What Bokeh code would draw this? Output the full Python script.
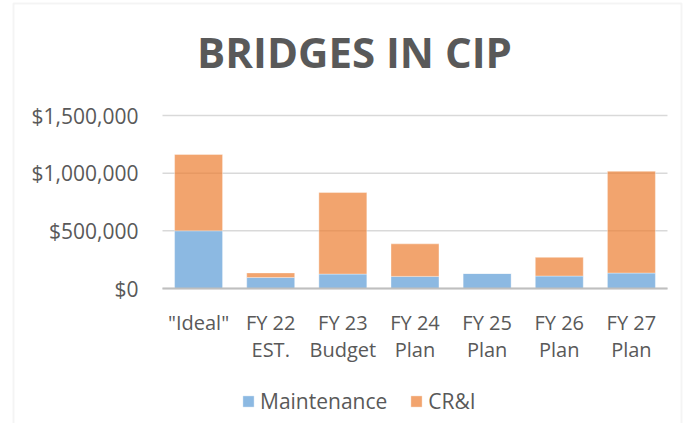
from bokeh.plotting import figure
from bokeh.models import (Range1d, FixedTicker, NumeralTickFormatter, LinearAxis,
                          Legend, Label, BoxAnnotation)
from bokeh.embed import file_html
from bokeh.resources import INLINE

categories = ['"Ideal"', "FY 22\nEST.", "FY 23\nBudget", "FY 24\nPlan",
              "FY 25\nPlan", "FY 26\nPlan", "FY 27\nPlan"]
maintenance = [500000, 95000, 125000, 105000, 130000, 108000, 134000]
cri = [662000, 40000, 707000, 282000, 0, 162000, 883000]
series = ["Maintenance", "CR&I"]
y_ticks = [0, 500000, 1000000, 1500000]
title_text = "BRIDGES IN CIP"

FONT = "Open Sans"
TXT = "#595959"

W, H = 683, 423
# frame covers the whole canvas; pixel layout mapped to data units
PX_X = 72.14            # pixels per category
PX_Y = 115.33 / 1e6     # pixels per dollar
X0, Y0 = 162, 288       # plot-area left edge and $0 baseline (px)
n = len(categories)
xs = list(range(n))

def dx(px):
    return (px - X0) / PX_X - 0.5

def dy(py):
    return (Y0 - py) / PX_Y

p = figure(x_range=Range1d(dx(0), dx(W)), y_range=Range1d(dy(H), dy(0)),
           width=W, height=H, output_backend="svg", toolbar_location=None,
           x_axis_type=None, y_axis_type=None,
           min_border=0, min_border_left=0, min_border_right=0,
           min_border_top=0, min_border_bottom=0)
p.outline_line_color = None
p.background_fill_color = "white"
p.border_fill_color = "white"
p.xgrid.visible = False
p.ygrid.visible = False

# gridlines
p.segment(x0=[-0.5] * len(y_ticks), x1=[n - 0.5] * len(y_ticks),
          y0=y_ticks, y1=y_ticks, line_color="#D9D9D9", line_width=1.5)

data = {"x": xs, "Maintenance": maintenance, "CR&I": cri}
r = p.vbar_stack(series, x="x", width=0.665, source=data,
                 fill_color=["#5B9BD5", "#ED7D31"], fill_alpha=0.7,
                 line_color="white", line_width=0.6, line_alpha=0.6)

# axes at fixed positions inside the frame
xaxis = LinearAxis(fixed_location=0, bounds=(-0.5, n - 0.5),
                   ticker=FixedTicker(ticks=xs),
                   major_label_overrides={i: c for i, c in zip(xs, categories)})
xaxis.axis_line_color = "#BFBFBF"
xaxis.axis_line_width = 2
xaxis.major_tick_line_color = None
xaxis.minor_tick_line_color = None
xaxis.major_label_standoff = 14
xaxis.major_label_text_font = FONT
xaxis.major_label_text_font_size = "20px"
xaxis.major_label_text_color = TXT
xaxis.major_label_text_line_height = 1.02
p.add_layout(xaxis, "below")

yaxis = LinearAxis(fixed_location=-0.5, bounds=(0, y_ticks[-1]),
                   ticker=FixedTicker(ticks=y_ticks),
                   formatter=NumeralTickFormatter(format="$0,0"))
yaxis.axis_line_color = None
yaxis.major_tick_line_color = None
yaxis.minor_tick_line_color = None
yaxis.major_label_standoff = 18
yaxis.major_label_text_font = FONT
yaxis.major_label_text_font_size = "21px"
yaxis.major_label_text_color = TXT
p.add_layout(yaxis, "left")

# title
p.add_layout(Label(x=dx(354), y=dy(51), text=title_text,
                   text_align="center", text_baseline="alphabetic",
                   text_font=FONT, text_font_style="bold",
                   text_font_size="42px", text_color=TXT))

# chart border
p.add_layout(BoxAnnotation(left=dx(13), right=dx(681), top=dy(3), bottom=dy(H + 20),
                           fill_color=None, fill_alpha=0,
                           line_color="#D9D9D9", line_width=2))

legend = Legend(items=[(s, [rr]) for s, rr in zip(series, r)],
                orientation="horizontal", location=(241, 8),
                padding=0, margin=0, spacing=22, glyph_width=14, glyph_height=14,
                label_text_font=FONT, label_text_font_size="21px",
                label_text_color=TXT, label_standoff=5,
                border_line_color=None, background_fill_alpha=0)
p.add_layout(legend, "center")

open("out.html", "w").write(file_html(p, INLINE))
